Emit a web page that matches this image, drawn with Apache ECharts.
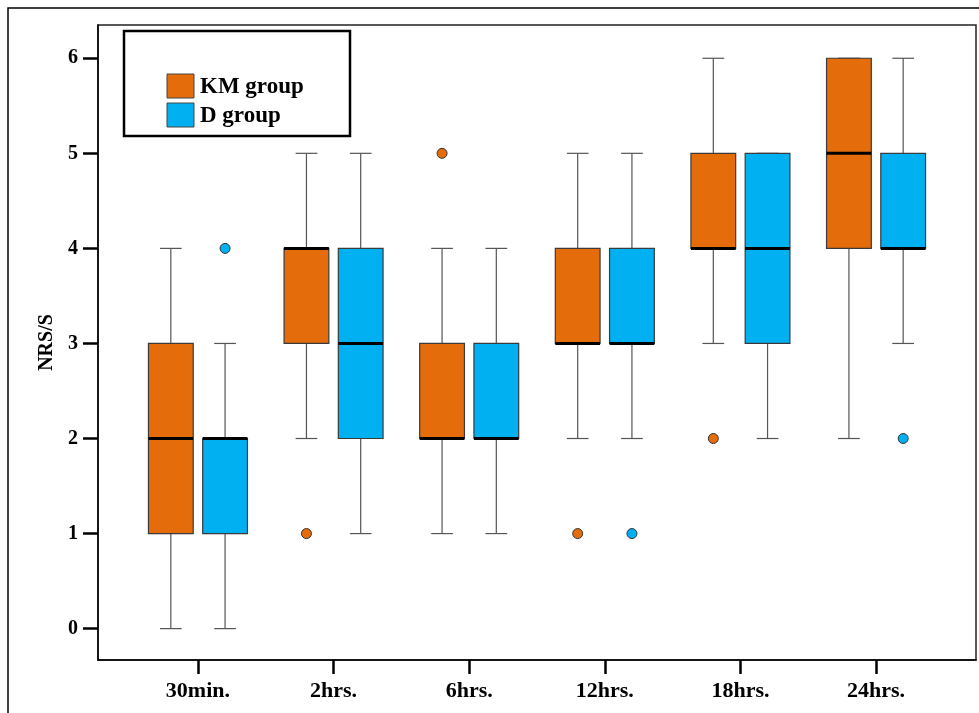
<!DOCTYPE html>
<html><head><meta charset="utf-8">
<script src="https://cdn.jsdelivr.net/npm/echarts@6/dist/echarts.min.js"></script>
<style>html,body{margin:0;padding:0;background:#fff}#c{width:979px;height:713px}</style>
</head><body><div id="c"></div>
<script>
const categories = ['30min.', '2hrs.', '6hrs.', '12hrs.', '18hrs.', '24hrs.'];
const groups = ['KM group', 'D group'];
// [min, Q1, median, Q3, max]
const kmBoxes = [[0,1,2,3,4],[2,3,4,4,5],[1,2,2,3,4],[2,3,3,4,5],[3,4,4,5,6],[2,4,5,6,6]];
const dBoxes  = [[0,1,2,2,3],[1,2,3,4,5],[1,2,2,3,4],[2,3,3,4,5],[2,3,4,5,5],[3,4,4,5,6]];
// [categoryIndex, value]
const kmOutliers = [[1,1],[2,5],[3,1],[4,2]];
const dOutliers  = [[0,4],[3,1],[5,2]];
const yTicks = [0,1,2,3,4,5,6];

const colors = ['#E46C0A', '#00B0F0'];
const offsets = [-0.2, 0.2];
const halfW = 0.165, capHalf = 0.08;

function boxSeries(name, boxes, idx) {
  return {
    name: name, type: 'custom', z: 3,
    data: boxes.map((b, i) => [i].concat(b)),
    renderItem: function (params, api) {
      const x = api.value(0) + offsets[idx];
      const mn = api.value(1), q1 = api.value(2), md = api.value(3), q3 = api.value(4), mx = api.value(5);
      const pL = api.coord([x - halfW, q3]), pR = api.coord([x + halfW, q1]);
      const cL = api.coord([x - capHalf, mx]), cR = api.coord([x + capHalf, mx]);
      const bL = api.coord([x - capHalf, mn]), bR = api.coord([x + capHalf, mn]);
      const c = api.coord([x, 0])[0];
      const yMx = api.coord([x, mx])[1], yMn = api.coord([x, mn])[1];
      const yQ3 = pL[1], yQ1 = pR[1];
      const mdL = api.coord([x - halfW, md]), mdR = api.coord([x + halfW, md]);
      const wStyle = {stroke: '#555', lineWidth: 1.2};
      const children = [
        {type: 'line', shape: {x1: c, y1: yMx, x2: c, y2: yQ3}, style: wStyle},
        {type: 'line', shape: {x1: c, y1: yQ1, x2: c, y2: yMn}, style: wStyle},
        {type: 'line', shape: {x1: cL[0], y1: yMx, x2: cR[0], y2: yMx}, style: wStyle},
        {type: 'line', shape: {x1: bL[0], y1: yMn, x2: bR[0], y2: yMn}, style: wStyle},
        {type: 'rect', shape: {x: pL[0], y: yQ3, width: pR[0] - pL[0], height: yQ1 - yQ3},
          style: {fill: colors[idx], stroke: '#3a3a3a', lineWidth: 1.2}},
        {type: 'line', shape: {x1: mdL[0], y1: mdL[1], x2: mdR[0], y2: mdR[1]},
          style: {stroke: '#000', lineWidth: 3}}
      ];
      return {type: 'group', children: children};
    }
  };
}
function outlierSeries(name, pts, idx) {
  return {
    name: name + ' outliers', type: 'scatter', z: 4,
    data: pts.map(p => [p[0] + offsets[idx], p[1]]),
    symbol: 'circle', symbolSize: 10,
    itemStyle: {color: colors[idx], borderColor: '#333', borderWidth: 1, opacity: 1}
  };
}

const chart = echarts.init(document.getElementById('c'), null, {renderer: 'canvas'});
chart.setOption({
  animation: false,
  backgroundColor: '#fff',
  grid: {left: 98, top: 25, right: 3, bottom: 53, show: true, borderColor: '#222', borderWidth: 1.5, containLabel: false},
  xAxis: {
    type: 'value', min: -0.737, max: 5.737,
    splitLine: {show: false},
    axisLine: {show: true, onZero: false, lineStyle: {color: '#000', width: 1.5}},
    axisTick: {show: true, customValues: [0,1,2,3,4,5], length: 14, lineStyle: {color: '#000', width: 2.5}},
    axisLabel: {customValues: [0,1,2,3,4,5], margin: 20,
      formatter: v => categories[Math.round(v)],
      fontFamily: 'Liberation Serif', fontWeight: 'bold', fontSize: 22, color: '#000'}
  },
  yAxis: {
    type: 'value', min: -0.33, max: 6.35,
    name: 'NRS/S', nameLocation: 'middle', nameGap: 40,
    nameTextStyle: {fontFamily: 'Liberation Serif', fontWeight: 'bold', fontSize: 20, color: '#000'},
    splitLine: {show: false},
    axisLine: {show: true, onZero: false, lineStyle: {color: '#000', width: 1.5}},
    axisTick: {show: true, customValues: yTicks, length: 15, lineStyle: {color: '#000', width: 2.5}},
    axisLabel: {customValues: yTicks, margin: 20,
      fontFamily: 'Liberation Serif', fontWeight: 'bold', fontSize: 20, color: '#000'}
  },
  series: [
    boxSeries(groups[0], kmBoxes, 0),
    boxSeries(groups[1], dBoxes, 1),
    outlierSeries(groups[0], kmOutliers, 0),
    outlierSeries(groups[1], dOutliers, 1)
  ],
  graphic: [
    {type: 'rect', shape: {x: 8, y: 8, width: 1000, height: 800}, style: {fill: 'none', stroke: '#000', lineWidth: 1.5}, silent: true},
    {type: 'rect', shape: {x: 124, y: 31, width: 226, height: 105}, style: {fill: '#fff', stroke: '#000', lineWidth: 2.5}, z: 10},
    {type: 'rect', shape: {x: 167, y: 74, width: 27, height: 24}, style: {fill: colors[0], stroke: '#444', lineWidth: 1}, z: 11},
    {type: 'rect', shape: {x: 167, y: 103, width: 27, height: 24}, style: {fill: colors[1], stroke: '#444', lineWidth: 1}, z: 11},
    {type: 'text', x: 200, y: 87, style: {text: groups[0], fill: '#000', font: 'bold 23px "Liberation Serif"', verticalAlign: 'middle'}, z: 11},
    {type: 'text', x: 200, y: 116, style: {text: groups[1], fill: '#000', font: 'bold 23px "Liberation Serif"', verticalAlign: 'middle'}, z: 11}
  ]
});
</script></body></html>
